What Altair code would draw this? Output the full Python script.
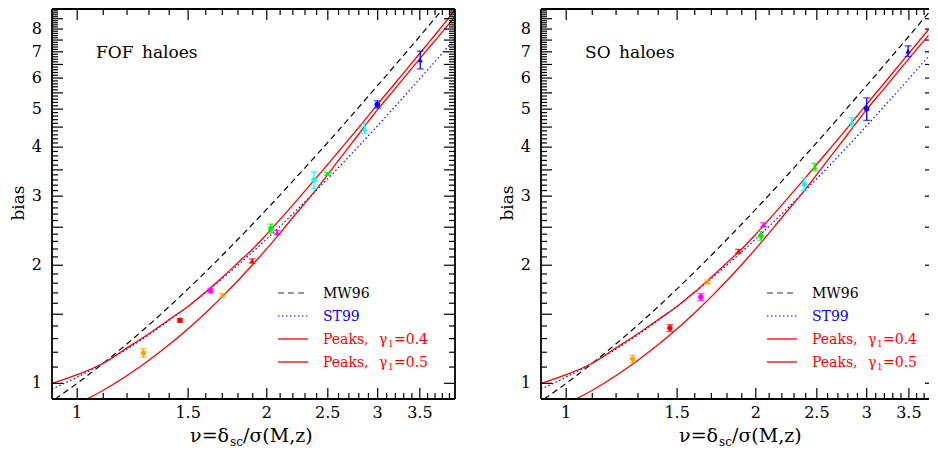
import altair as alt
import pandas as pd

FONT = "DejaVu Serif"

# ---------------- data ----------------
mw96_nu = [0.923, 1.0, 1.1, 1.2, 1.3, 1.4, 1.5, 1.6, 1.7, 1.8, 1.9, 2.0,
           2.2, 2.4, 2.6, 2.8, 3.0, 3.2, 3.4, 3.6, 3.76, 3.8]
mw96 = [0.912, 1.000, 1.125, 1.261, 1.409, 1.569, 1.741, 1.925, 2.121, 2.329, 2.548, 2.779,
        3.278, 3.823, 4.416, 5.057, 5.745, 6.480, 7.263, 8.094, 8.790, 8.972]
st99_nu = [0.912, 1.0, 1.1, 1.2, 1.3, 1.4, 1.5, 1.6, 1.7, 1.8, 1.9, 2.0,
           2.2, 2.4, 2.6, 2.8, 3.0, 3.2, 3.4, 3.6, 3.76, 3.8, 3.98]
st99 = [0.967, 1.037, 1.126, 1.223, 1.330, 1.447, 1.572, 1.706, 1.850, 2.003, 2.164, 2.335,
        2.704, 3.109, 3.549, 4.026, 4.538, 5.087, 5.671, 6.292, 6.810, 6.947, 7.568]
peaks04_nu = [0.912, 1.0, 1.1, 1.2, 1.3, 1.4, 1.5, 1.6, 1.7, 1.8, 1.9, 2.0,
              2.2, 2.4, 2.6, 2.8, 3.0, 3.2, 3.4, 3.6, 3.76, 3.8, 3.98]
peaks04 = [1.000, 1.052, 1.125, 1.231, 1.337, 1.455, 1.570, 1.710, 1.864, 2.030, 2.200, 2.400,
           2.850, 3.350, 3.900, 4.490, 5.150, 5.830, 6.560, 7.330, 7.980, 8.150, 8.970]
peaks05_nu = [1.038, 1.1, 1.2, 1.3, 1.4, 1.5, 1.6, 1.7, 1.8, 1.9, 2.0,
              2.2, 2.4, 2.6, 2.8, 3.0, 3.2, 3.4, 3.6, 3.76, 3.8, 3.98]
peaks05 = [0.913, 0.960, 1.047, 1.145, 1.255, 1.378, 1.514, 1.663, 1.828, 2.009, 2.204,
           2.647, 3.132, 3.700, 4.321, 4.991, 5.650, 6.360, 7.100, 7.710, 7.870, 8.620]

fof_nu = [1.274, 1.456, 1.629, 1.699, 1.896, 2.030, 2.077, 2.377, 2.497, 2.860, 2.996, 3.505]
fof_b = [1.195, 1.447, 1.723, 1.675, 2.051, 2.480, 2.423, 3.300, 3.420, 4.460, 5.140, 6.680]
fof_err = [0.030, 0.015, 0.025, 0.020, 0.025, 0.066, 0.030, 0.160, 0.030, 0.130, 0.110, 0.350]
fof_color = ["#FFA500", "#FF0000", "#FF00FF", "#FFA500", "#FF0000", "#00EE00",
             "#FF00FF", "#00FFFF", "#00EE00", "#00FFFF", "#0000FF", "#0000FF"]
fof_shape = ["circle", "circle", "circle", "triangle-up", "triangle-up", "circle",
             "triangle-up", "circle", "triangle-up", "triangle-up", "circle", "triangle-up"]

so_nu = [1.275, 1.461, 1.636, 1.677, 1.877, 2.037, 2.057, 2.386, 2.481, 2.840, 3.000, 3.490]
so_b = [1.153, 1.383, 1.659, 1.814, 2.171, 2.377, 2.536, 3.220, 3.560, 4.630, 5.010, 7.030]
so_err = [0.025, 0.028, 0.035, 0.020, 0.025, 0.060, 0.030, 0.120, 0.080, 0.120, 0.330, 0.220]
so_color = ["#FFA500", "#FF0000", "#FF00FF", "#FFA500", "#FF0000", "#00EE00",
            "#FF00FF", "#00FFFF", "#00EE00", "#00FFFF", "#0000FF", "#0000FF"]
so_shape = ["circle", "circle", "circle", "triangle-up", "triangle-up", "circle",
            "triangle-up", "circle", "triangle-up", "triangle-up", "circle", "triangle-up"]

x_label_vals = [1.0, 1.5, 2.0, 2.5, 3.0, 3.5]
x_label_text = ["1", "1.5", "2", "2.5", "3", "3.5"]
y_label_vals = [1, 2, 3, 4, 5, 6, 7, 8]
y_label_text = ["1", "2", "3", "4", "5", "6", "7", "8"]
x_major = [1.0, 1.5, 2.0, 2.5, 3.0, 3.5]
x_minor = [round(k * 0.1, 1) for k in range(11, 40) if k % 5 != 0]
y_major = [round(k * 0.5, 1) for k in range(2, 18)]
y_minor = [round(k * 0.1, 1) for k in range(11, 90) if k % 5 != 0]

legend_names = ["MW96", "ST99", "Peaks,", "Peaks,"]
legend_greek = ["", "", "\u03b3", "\u03b3"]
legend_sub = ["", "", "1", "1"]
legend_tail = ["", "", "=0.4", "=0.5"]

# ---------------- layout ----------------
H = 390
YDOM = [0.912, 9.0]
MAJ, MIN = 11, 6
FRAME = 1.8

one = pd.DataFrame({"a": [0]})


def curve_df(nus, vals, xmax):
    return pd.DataFrame({"nu": nus, "b": vals}).query("nu <= @xmax + 1e-9")


def txt(s, x, y, size=16, color="black", align="left", baseline="alphabetic", angle=0):
    return alt.Chart(one).mark_text(
        text=s, align=align, baseline=baseline, font=FONT, fontSize=size, color=color, angle=angle
    ).encode(x=alt.value(x), y=alt.value(y))


def hline(x1, x2, y, width=FRAME):
    return alt.Chart(one).mark_rule(color="black", strokeWidth=width).encode(
        x=alt.value(x1), x2=alt.value(x2), y=alt.value(y))


def vline(x, y1, y2, width=FRAME):
    return alt.Chart(one).mark_rule(color="black", strokeWidth=width).encode(
        x=alt.value(x), y=alt.value(y1), y2=alt.value(y2))


def panel(label, nus, bs, errs, cols, shapes, W, xmax, right_frame):
    xs = alt.Scale(type="log", domain=[0.912, xmax], nice=False)
    ys = alt.Scale(type="log", domain=YDOM, nice=False)
    X = lambda f: alt.X(f, scale=xs, axis=None)
    Y = lambda f: alt.Y(f, scale=ys, axis=None)
    layers = []

    # curves
    for cn, cv, kw in [
        (mw96_nu, mw96, dict(color="black", strokeDash=[6, 4], strokeWidth=1.2)),
        (st99_nu, st99, dict(color="#0000FF", strokeDash=[1.5, 2.5], strokeWidth=1.2)),
        (peaks04_nu, peaks04, dict(color="#FF0000", strokeWidth=1.3)),
        (peaks05_nu, peaks05, dict(color="#FF0000", strokeWidth=1.3)),
    ]:
        layers.append(
            alt.Chart(curve_df(cn, cv, xmax)).mark_line(clip=True, interpolate="monotone", **kw).encode(
                x=X("nu:Q"), y=Y("b:Q"))
        )

    # data points with error bars
    pts = pd.DataFrame({
        "nu": nus, "b": bs,
        "lo": [b - e for b, e in zip(bs, errs)],
        "hi": [b + e for b, e in zip(bs, errs)],
        "col": cols, "shape": shapes,
    })
    base = alt.Chart(pts)
    C = alt.Color("col:N", scale=None)
    layers.append(base.mark_rule(strokeWidth=1.3).encode(
        x=X("nu:Q"), y=Y("lo:Q"), y2="hi:Q", color=C))
    for f in ["lo", "hi"]:
        layers.append(base.mark_tick(orient="horizontal", size=7, thickness=1.3).encode(
            x=X("nu:Q"), y=Y(f + ":Q"), color=C))
    layers.append(base.mark_point(filled=True, size=30, opacity=1).encode(
        x=X("nu:Q"), y=Y("b:Q"), color=C, shape=alt.Shape("shape:N", scale=None)))

    # inward ticks
    def xt(vals, length):
        d = alt.Chart(pd.DataFrame({"v": vals})).mark_rule(color="black", strokeWidth=1.2)
        return [
            d.encode(x=X("v:Q"), y=alt.value(H), y2=alt.value(H - length)),
            d.encode(x=X("v:Q"), y=alt.value(0), y2=alt.value(length)),
        ]

    def yt(vals, length, right_len):
        d = alt.Chart(pd.DataFrame({"v": vals})).mark_rule(color="black", strokeWidth=1.2)
        out = [d.encode(y=Y("v:Q"), x=alt.value(0), x2=alt.value(length))]
        if right_len > 0:
            out.append(d.encode(y=Y("v:Q"), x=alt.value(W), x2=alt.value(W - right_len)))
        return out

    xmin_vals = [v for v in x_minor if v <= xmax]
    layers += xt(x_major, MAJ) + xt(xmin_vals, MIN)
    layers += yt(y_major, MAJ, MAJ if right_frame else 4) + yt(y_minor, MIN, MIN if right_frame else 0)

    # frame
    layers += [hline(0, W, 0), hline(0, W, H), vline(0, 0, H)]
    if right_frame:
        layers.append(vline(W, 0, H))

    # tick labels
    xl = pd.DataFrame({"v": x_label_vals, "t": x_label_text})
    layers.append(alt.Chart(xl).mark_text(
        font=FONT, fontSize=16, color="black", align="center", baseline="middle"
    ).encode(x=X("v:Q"), y=alt.value(H + 14), text="t:N"))
    yl = pd.DataFrame({"v": y_label_vals, "t": y_label_text})
    layers.append(alt.Chart(yl).mark_text(
        font=FONT, fontSize=16, color="black", align="right", baseline="middle"
    ).encode(y=Y("v:Q"), x=alt.value(-10), text="t:N"))

    # axis titles
    layers.append(txt("bias", -33, 194, size=17, align="center", baseline="middle", angle=270))
    layers.append(txt("\u03bd=\u03b4", 177, H + 43, size=19, align="right"))
    layers.append(txt("sc", 178, H + 47, size=12))
    layers.append(txt("/\u03c3(M,z)", 191, H + 43, size=19))

    # panel label
    layers.append(txt(label, 44, 49, size=17))

    # legend
    rows_y = [284, 307, 330, 353]
    styles = [
        dict(color="#333333", strokeDash=[6, 4], strokeWidth=1.2),
        dict(color="#0000FF", strokeDash=[1.5, 2.5], strokeWidth=1.2),
        dict(color="#FF0000", strokeWidth=1.3),
        dict(color="#FF0000", strokeWidth=1.3),
    ]
    tcols = ["black", "#0000FF", "#FF0000", "#FF0000"]
    for i in range(4):
        layers.append(alt.Chart(one).mark_rule(**styles[i]).encode(
            x=alt.value(226), x2=alt.value(256), y=alt.value(rows_y[i])))
        layers.append(txt(legend_names[i], 271, rows_y[i] + 5, size=14, color=tcols[i]))
        if legend_sub[i]:
            layers.append(txt(legend_greek[i], 327, rows_y[i] + 5, size=14, color=tcols[i]))
            layers.append(txt(legend_sub[i], 336, rows_y[i] + 8, size=9, color=tcols[i]))
            layers.append(txt(legend_tail[i], 342, rows_y[i] + 5, size=14, color=tcols[i]))

    return alt.layer(*layers).properties(width=W, height=H)


left = panel("FOF\u2002haloes", fof_nu, fof_b, fof_err, fof_color, fof_shape, 403, 3.98, True)
right = panel("SO\u2002haloes", so_nu, so_b, so_err, so_color, so_shape, 388, 3.767, False)

chart = alt.hconcat(left, right, spacing=43).properties(
    padding={"left": 2, "top": 0, "right": 0, "bottom": 0}
).configure_view(stroke=None)

chart.save("out.html", embed_options={"renderer": "svg", "actions": False})
